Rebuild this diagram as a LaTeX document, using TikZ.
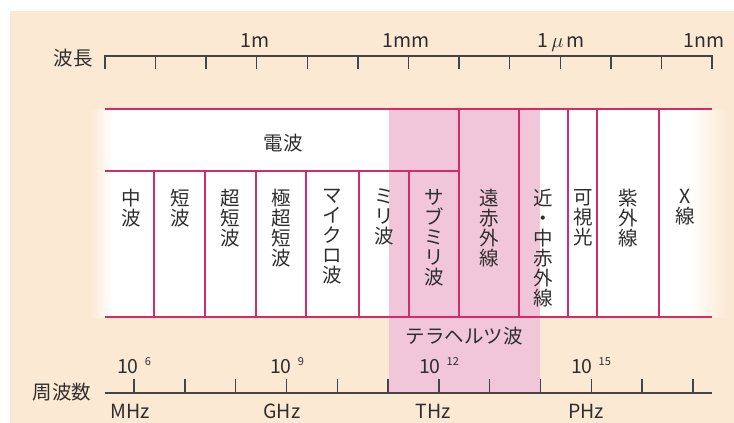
\documentclass[tikz,border=0pt]{standalone}
\usepackage{fontspec}
\setmainfont{Noto Sans CJK JP}
\definecolor{bg}{HTML}{FBE9D3}
\definecolor{crim}{HTML}{D42C6A}
\definecolor{tpink}{HTML}{F2C6D9}
\definecolor{axiscol}{HTML}{454545}
\definecolor{txt}{HTML}{2E2E2E}
\newcommand{\supnum}[1]{\hspace{6pt}\raisebox{8pt}{\fontsize{11}{11}\selectfont #1}}
\begin{document}
\begin{tikzpicture}[x=1pt,y=-1pt,
  bandline/.style={draw=crim,line width=1.8pt},
  axline/.style={draw=axiscol,line width=1.4pt},
  lbl/.style={font=\fontsize{19.5}{20}\selectfont,text=txt,inner sep=0pt},
  vlbl/.style={lbl,align=center,anchor=north}]
\useasboundingbox (0,0) rectangle (734,423);
% background
\fill[bg] (10,11) rectangle (734,423);
% white band with soft edges
\fill[white] (112,109) rectangle (690,317);
\shade[left color=bg,right color=white] (90,109) rectangle (112.5,317);
\shade[left color=white,right color=bg] (689.5,109) rectangle (728,317);
% terahertz region
\fill[tpink] (389,109) rectangle (540,393);
% band lines
\draw[bandline] (105,109) -- (712,109);
\draw[bandline] (105,171) -- (459,171);
\draw[bandline] (105,317) -- (712,317);
\foreach \x in {154,205,256,306,359,409} \draw[bandline] (\x,171) -- (\x,317);
\foreach \x in {459,519,568,597,659} \draw[bandline] (\x,109) -- (\x,317);
% wavelength axis
\draw[axline] (105,69) -- (105,56) -- (712,56) -- (712,69);
\foreach \i in {1,...,11} \draw[axline] ({105+50.58*\i},56) -- ({105+50.58*\i},69);
\node[lbl] (wl) at (73,58) {波長};
\node[lbl,anchor=base] (w1) at (255,47) {1m};
\node[lbl,anchor=base] (w2) at (406,47) {1mm};
\node[lbl,anchor=base] (w3) at (561,47) {1\,$\mu$\,m};
\node[lbl,anchor=base] (w4) at (704,47) {1nm};
% frequency axis
\draw[axline] (105,393) -- (712,393);
\foreach \i in {0,...,11} \draw[axline] ({134+50.8*\i},393) -- ({134+50.8*\i},379);
\node[lbl] (fq) at (62,392) {周波数};
\node[lbl,anchor=base] (f1) at (134,373) {10\supnum{6}};
\node[lbl,anchor=base] (f2) at (287,373) {10\supnum{9}};
\node[lbl,anchor=base] (f3) at (439,373) {10\supnum{12}};
\node[lbl,anchor=base] (f4) at (591,373) {10\supnum{15}};
\node[lbl,anchor=base] (u1) at (130,418) {MHz};
\node[lbl,anchor=base] (u2) at (282,418) {GHz};
\node[lbl,anchor=base] (u3) at (433,418) {THz};
\node[lbl,anchor=base] (u4) at (586,418) {PHz};
\node[lbl] (thz) at (464,336) {テラヘルツ波};
% band labels
\node[lbl] (radio) at (283,143) {電波};
\node[vlbl] (c1) at (131,189) {中\\波};
\node[vlbl] (c2) at (180,189) {短\\波};
\node[vlbl] (c3) at (230,189) {超\\短\\波};
\node[vlbl] (c4) at (281,189) {極\\超\\短\\波};
\node[vlbl] (c5) at (332,189) {マ\\イ\\ク\\ロ\\波};
\node[vlbl] (c6) at (384,189) {ミ\\リ\\波};
\node[vlbl] (c7) at (434,189) {サ\\ブ\\ミ\\リ\\波};
\node[vlbl] (c8) at (489,189) {遠\\赤\\外\\線};
\node[vlbl] (c9) at (543,189) {近\\・\\中\\赤\\外\\線};
\node[vlbl] (c10) at (583,189) {可\\視\\光};
\node[vlbl] (c11) at (628,189) {紫\\外\\線};
\node[vlbl] (c12) at (685,189) {X\\線};
\end{tikzpicture}
\end{document}
